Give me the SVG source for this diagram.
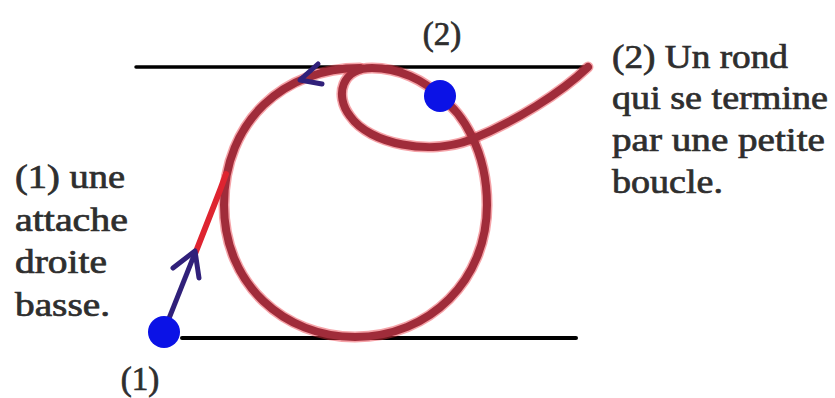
<svg xmlns="http://www.w3.org/2000/svg" width="835" height="398" viewBox="0 0 835 398">
<style>
.txt{font-family:"Liberation Serif","Times New Roman",serif;font-size:33px;font-weight:normal;fill:#2e2e2e;stroke:#2e2e2e;stroke-width:0.7}
.rule{stroke:#000;stroke-linecap:round;fill:none}
.halo{stroke:#e8343f;stroke-width:11;fill:none;opacity:0.45;stroke-linecap:round;stroke-linejoin:round}
.stroke{stroke:#a02c3a;stroke-width:8;fill:none;stroke-linecap:round;stroke-linejoin:round}
.attache{stroke:#de2430;stroke-width:6;fill:none;stroke-linecap:round}
.blue{fill:#0b12e6}
.arrow{stroke:#30207a;stroke-width:5;fill:none;stroke-linecap:round;stroke-linejoin:round}
</style>
<rect width="835" height="398" fill="#fff"/>
<g id="guides">
<line class="rule" x1="136" y1="67" x2="590" y2="67" stroke-width="3.5"/>
<line class="rule" x1="182" y1="338" x2="576" y2="338" stroke-width="4"/>
</g>
<g id="connectors">
<path class="halo" d="M 440 97 C 462 112, 487 150, 487 205 C 487 280, 430 337, 355 337 C 285 337, 224 285, 224 205 C 224 120, 285 68, 360 68"/>
<path class="halo" d="M 440 97 C 425 80, 398 68, 372 68 C 342 68, 334 95, 350 116 C 370 145, 430 155, 470 140 C 515 122, 562 92, 588 67"/>
<path class="stroke" d="M 440 97 C 462 112, 487 150, 487 205 C 487 280, 430 337, 355 337 C 285 337, 224 285, 224 205 C 224 120, 285 68, 360 68"/>
<path class="stroke" d="M 440 97 C 425 80, 398 68, 372 68 C 342 68, 334 95, 350 116 C 370 145, 430 155, 470 140 C 515 122, 562 92, 588 67"/>
<path class="attache" d="M 195 254 L 215 203 Q 221 188 226 174"/>
<line class="arrow" x1="164" y1="331" x2="195" y2="253"/>
<polyline class="arrow" points="173,268 195,251 199,278"/>
<polyline class="arrow" points="318,64 300,80 322,84" stroke-width="4"/>
</g>
<g id="node-1">
<circle class="blue" cx="164" cy="332" r="16"/>
<text class="txt" x="140" y="390" text-anchor="middle">(1)</text>
</g>
<g id="node-2">
<circle class="blue" cx="440" cy="96" r="16"/>
<text class="txt" x="442" y="45" text-anchor="middle">(2)</text>
</g>
<g id="label-1">
<text class="txt" x="15" y="188" textLength="110" lengthAdjust="spacingAndGlyphs">(1) une</text>
<text class="txt" x="15" y="231" textLength="113" lengthAdjust="spacingAndGlyphs">attache</text>
<text class="txt" x="15" y="273" textLength="92" lengthAdjust="spacingAndGlyphs">droite</text>
<text class="txt" x="15" y="316" textLength="95" lengthAdjust="spacingAndGlyphs">basse.</text>
</g>
<g id="label-2">
<text class="txt" x="612" y="68" textLength="176" lengthAdjust="spacingAndGlyphs">(2) Un rond</text>
<text class="txt" x="612" y="109" textLength="216" lengthAdjust="spacingAndGlyphs">qui se termine</text>
<text class="txt" x="612" y="151" textLength="213" lengthAdjust="spacingAndGlyphs">par une petite</text>
<text class="txt" x="612" y="193" textLength="111" lengthAdjust="spacingAndGlyphs">boucle.</text>
</g>
</svg>
